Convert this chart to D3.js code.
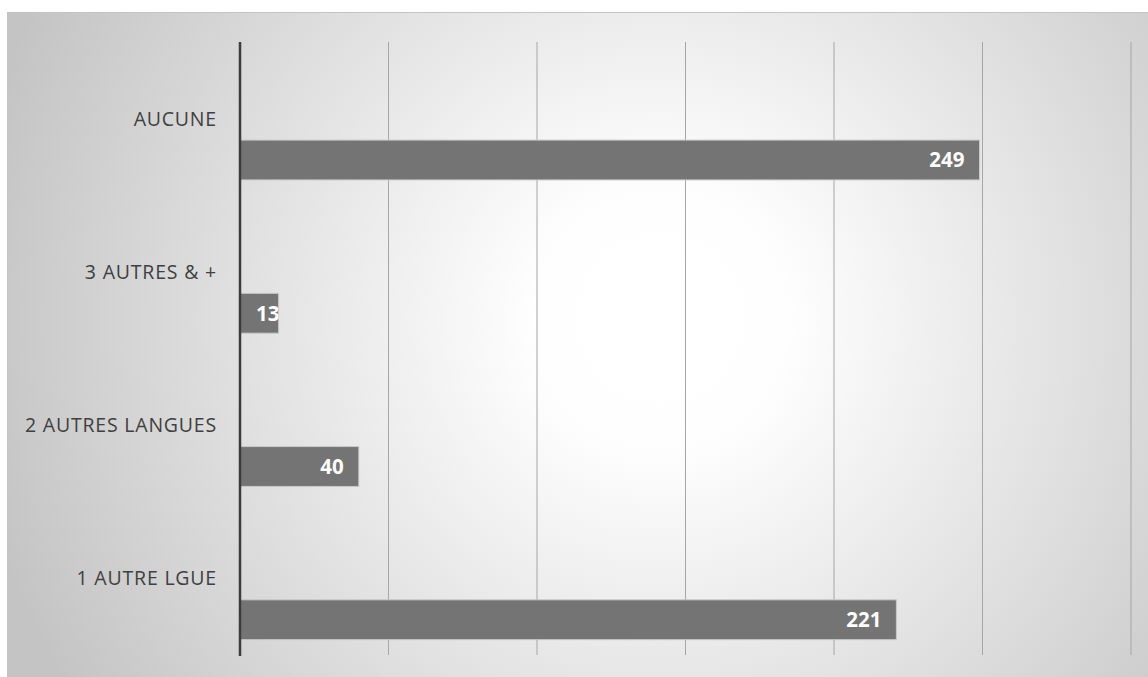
<!DOCTYPE html>
<html>
<head>
<meta charset="utf-8">
<script src="https://cdn.jsdelivr.net/npm/d3@7"></script>
<style>
  html, body { margin: 0; padding: 0; background: #fff; }
  svg { display: block; }
</style>
</head>
<body>
<div id="chart"></div>
<script>
// data (top to bottom)
const categories = ['AUCUNE', '3 AUTRES & +', '2 AUTRES LANGUES', '1 AUTRE LGUE'];
const values = [249, 13, 40, 221];
const xTicks = [0, 50, 100, 150, 200, 250, 300];

const W = 1148, H = 677;
const m = {t: 42, r: 17, b: 22, l: 240};

const svg = d3.select('#chart').append('svg')
    .attr('width', W).attr('height', H)
    .style('font-family', '"Open Sans", sans-serif');

// background gradient of the chart area
const defs = svg.append('defs');
const grad = defs.append('radialGradient').attr('id', 'bg')
    .attr('gradientUnits', 'userSpaceOnUse')
    .attr('cx', 660).attr('cy', 320).attr('r', 700);
grad.append('stop').attr('offset', '0%').attr('stop-color', '#ffffff');
grad.append('stop').attr('offset', '18%').attr('stop-color', '#fefefe');
grad.append('stop').attr('offset', '100%').attr('stop-color', '#c4c4c4');

svg.append('rect')
    .attr('x', 7.5).attr('y', 12.5)
    .attr('width', W).attr('height', H)
    .attr('fill', 'url(#bg)')
    .attr('stroke', '#c4c4c4').attr('stroke-width', 1);

// scales
const x = d3.scaleLinear().domain([0, 300]).range([m.l, W - m.r]);
const y = d3.scaleBand().domain(categories).range([m.t, H - m.b]);

// vertical gridlines
svg.append('g').selectAll('line').data(xTicks.slice(1)).enter().append('line')
    .attr('x1', d => x(d)).attr('x2', d => x(d))
    .attr('y1', m.t).attr('y2', H - m.b)
    .attr('stroke', '#a6a6a6').attr('stroke-width', 1);

// bars: sit in the lower part of each band (empty first series slot)
const barTop = c => y(c) + y.bandwidth() * 0.64;
const barH = y.bandwidth() * 0.26;

values.forEach((v, i) => {
  defs.append('clipPath').attr('id', 'clip' + i).append('rect')
      .attr('x', x(0)).attr('y', barTop(categories[i]))
      .attr('width', x(v) - x(0)).attr('height', barH);
});

const bars = svg.append('g').selectAll('g').data(categories).enter().append('g');

bars.append('rect')
    .attr('x', x(0))
    .attr('y', d => barTop(d))
    .attr('width', (d, i) => x(values[i]) - x(0))
    .attr('height', barH)
    .attr('fill', '#747474')
    .attr('stroke', '#c8c8c8').attr('stroke-width', 1);

bars.append('text')
    .attr('clip-path', (d, i) => 'url(#clip' + i + ')')
    .attr('y', d => barTop(d) + barH / 2)
    .attr('dy', '0.36em')
    .attr('text-anchor', 'end')
    .attr('fill', '#ffffff')
    .attr('font-weight', 'bold')
    .attr('font-size', 20.5)
    .text((d, i) => values[i])
    .attr('x', function(d, i) {
      const w = this.getComputedTextLength();
      return Math.max(x(values[i]) - 15, x(0) + 16 + w);
    });

// category labels at band centres
svg.append('g').selectAll('text').data(categories).enter().append('text')
    .attr('x', 217)
    .attr('y', d => y(d) + y.bandwidth() / 2)
    .attr('dy', '0.36em')
    .attr('text-anchor', 'end')
    .attr('fill', '#404040')
    .attr('font-size', 19.5)
    .attr('letter-spacing', 0.8)
    .text(d => d);

// vertical axis line
svg.append('line')
    .attr('x1', x(0)).attr('x2', x(0))
    .attr('y1', m.t).attr('y2', H - m.b + 1)
    .attr('stroke', '#3c3c3c').attr('stroke-width', 2.5);
</script>
</body>
</html>
